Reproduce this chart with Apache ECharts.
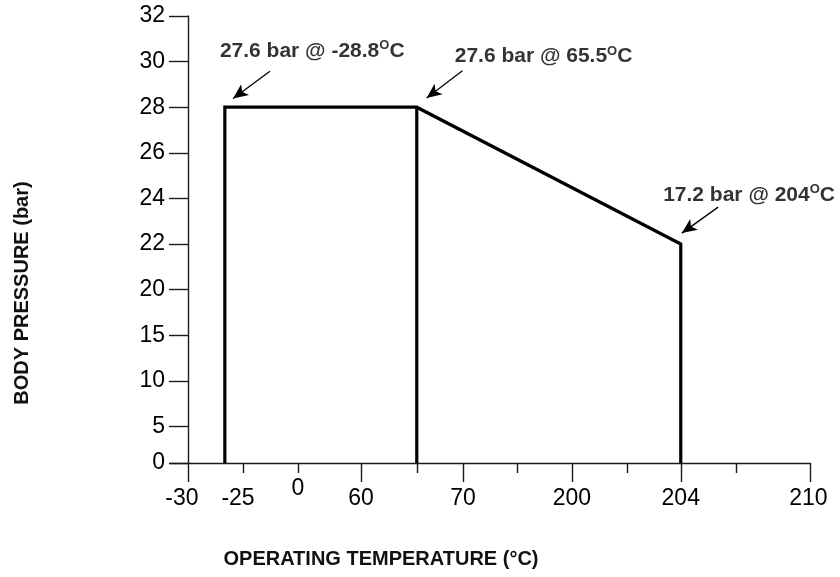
<!DOCTYPE html>
<html>
<head>
<meta charset="utf-8">
<script src="https://cdn.jsdelivr.net/npm/echarts@6/dist/echarts.min.js"></script>
<style>
html,body{margin:0;padding:0;background:#fff;}
#chart{width:840px;height:577px;}
</style>
</head>
<body>
<div id="chart"></div>
<script>
// ---- Data (axis drawn with a stylised, non-linear scale) ----
// Y axis: pressure tick labels and their positions on the drawn scale
const yTickLabels = [0, 5, 10, 15, 20, 22, 24, 26, 28, 30, 32];
const yTickPos    = [0, 0.8, 1.8, 2.8, 3.8, 4.8, 5.8, 6.8, 7.8, 8.8, 9.8];

// X axis: temperature tick labels and their positions on the drawn scale
const xTickLabels = ['-30', '-25', '60', '70', '200', '204', '210'];
const xLabelPos   = [-0.11, 0.91, 3.145, 5.0, 6.98, 8.96, 11.28];
const xZeroLabel  = '0';
const xZeroPos    = 2.0;
const xLongTicks  = [0, 3.145, 5.0, 6.98, 8.96, 11.31];
const xShortTicks = [1.0, 2.0, 4.16, 5.98, 7.98, 9.96];

// Pressure envelope (x position on drawn scale, pressure in bar as drawn)
const envX = [0.67, 0.67, 4.16, 8.96, 8.96];
const envP = [0, 28, 28, 22, 0];
// Divider line at 65.5 °C
const divX = [4.16, 4.16];
const divP = [0, 28];

// Annotations
const annText = [
  ['27.6 bar @ -28.8', 'C'],
  ['27.6 bar @ 65.5', 'C'],
  ['17.2 bar @ 204', 'C']
];
const annX = [0.58, 4.85, 8.64];
const annY = [9.03, 8.91, 5.88];
// Arrows: [startX, startY, tipX, tipY]
const arrows = [
  [1.49, 8.59, 0.82, 7.99],
  [4.99, 8.60, 4.34, 8.00],
  [9.64, 5.61, 8.98, 5.04]
];

const yPosOf = v => yTickPos[yTickLabels.indexOf(v)];
const FONT = 'Liberation Sans, Arial, sans-serif';
const AX = '#1a1a1a';
const TXT = '#000';

const chart = echarts.init(document.getElementById('chart'), null, {renderer: 'canvas'});

function nearestLabel(v, posArr, labArr) {
  let best = 0, d = Infinity;
  posArr.forEach((p, i) => { const dd = Math.abs(p - v); if (dd < d) { d = dd; best = i; } });
  return labArr[best];
}

const option = {
  backgroundColor: '#fff',
  animation: false,
  grid: {left: 170, right: 30, top: 16, bottom: 114},
  xAxis: [
    {
      type: 'value', min: -0.327, max: 11.31, position: 'bottom',
      axisLine: {show: true, onZero: true, lineStyle: {color: AX, width: 1.4}},
      axisTick: {show: true, customValues: xLongTicks, length: 19, lineStyle: {color: AX, width: 1.4}},
      axisLabel: {
        show: true, customValues: xLabelPos, margin: 24,
        fontSize: 23, fontFamily: FONT, color: TXT,
        formatter: v => nearestLabel(v, xLabelPos, xTickLabels)
      },
      splitLine: {show: false}
    },
    {
      type: 'value', min: -0.327, max: 11.31, position: 'bottom',
      axisLine: {show: false},
      axisTick: {show: true, customValues: xShortTicks, length: 10, lineStyle: {color: AX, width: 1.4}},
      axisLabel: {
        show: true, customValues: [xZeroPos], margin: 14,
        fontSize: 23, fontFamily: FONT, color: TXT,
        formatter: () => xZeroLabel
      },
      splitLine: {show: false}
    }
  ],
  yAxis: {
    type: 'value', min: 0, max: 9.8,
    axisLine: {show: true, onZero: true, onZeroAxisIndex: 0, lineStyle: {color: AX, width: 1.4}},
    axisTick: {show: true, customValues: yTickPos, length: 19, lineStyle: {color: AX, width: 1.4}},
    axisLabel: {
      show: true, customValues: yTickPos, margin: 5,
      fontSize: 23, fontFamily: FONT, color: TXT,
      formatter: v => String(nearestLabel(v, yTickPos, yTickLabels))
    },
    splitLine: {show: false}
  },
  series: [
    {
      type: 'line', xAxisIndex: 0, yAxisIndex: 0,
      data: envX.map((x, i) => [x, yPosOf(envP[i])]),
      symbol: 'none', silent: true,
      lineStyle: {color: '#000', width: 3.2, join: 'miter'},
      markLine: {
        silent: true, symbol: ['none', 'arrow'], symbolSize: [10, 15],
        label: {show: false},
        lineStyle: {color: '#000', width: 1.3, type: 'solid'},
        data: arrows.map(a => [{coord: [a[0], a[1]]}, {coord: [a[2], a[3]]}])
      }
    },
    {
      type: 'line', xAxisIndex: 0, yAxisIndex: 0,
      data: divX.map((x, i) => [x, yPosOf(divP[i])]),
      symbol: 'none', silent: true,
      lineStyle: {color: '#000', width: 3.2}
    },
    {
      type: 'scatter', xAxisIndex: 0, yAxisIndex: 0,
      symbolSize: 0, silent: true,
      data: annX.map((x, i) => [x, annY[i]]),
      label: {
        show: true, position: 'right', distance: 0,
        formatter: p => '{b|' + annText[p.dataIndex][0] + '}{s|O}{b|' + annText[p.dataIndex][1] + '}',
        rich: {
          b: {fontSize: 21, fontWeight: 'bold', fontFamily: FONT, color: TXT, lineHeight: 24, verticalAlign: 'middle'},
          s: {fontSize: 13, fontWeight: 'bold', fontFamily: FONT, color: TXT, lineHeight: 13, verticalAlign: 'top'}
        }
      }
    }
  ],
  graphic: [
    {
      type: 'text', x: 22, y: 293, rotation: Math.PI / 2,
      style: {text: 'BODY PRESSURE (bar)', font: 'bold 20px ' + FONT, fill: '#111', align: 'center', verticalAlign: 'middle'}
    },
    {
      type: 'text', x: 381, y: 559,
      style: {text: 'OPERATING TEMPERATURE (°C)', font: 'bold 20px ' + FONT, fill: '#111', align: 'center', verticalAlign: 'middle'}
    }
  ]
};
chart.setOption(option);
</script>
</body>
</html>
